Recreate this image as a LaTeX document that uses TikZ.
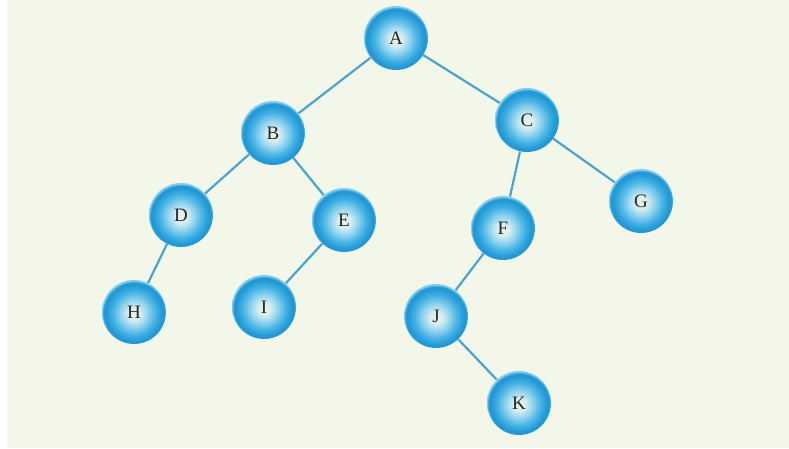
\documentclass[tikz,border=0pt]{standalone}
\usepackage{fontspec}
\setmainfont{Liberation Serif}
\usetikzlibrary{backgrounds}
\definecolor{bgc}{HTML}{F3F7EA}
\definecolor{edgec}{HTML}{4BA3CE}
\definecolor{txtc}{HTML}{262626}
\definecolor{ca}{HTML}{EEF3E6}
\definecolor{cb}{HTML}{D6EDF0}
\definecolor{cc}{HTML}{8CD2EE}
\definecolor{cd}{HTML}{43B1E5}
\definecolor{ce}{HTML}{2096D3}
\definecolor{cf}{HTML}{2A9BD6}
\definecolor{cg}{HTML}{80CDEE}
\pgfdeclareradialshading{nodeball}{\pgfpoint{0bp}{-1.5bp}}{color(0bp)=(ca); color(5bp)=(cb); color(11bp)=(cc); color(17bp)=(cd); color(22.5bp)=(ce); color(24bp)=(cf); color(25bp)=(cg); color(50bp)=(cg)}
\tikzset{
  tnode/.style={circle, minimum size=64pt, inner sep=0pt, shading=nodeball, text=txtc, font=\fontsize{19}{22}\selectfont},
  tedge/.style={draw=edgec, line width=2.2pt}
}
\begin{document}
\begin{tikzpicture}[x=1pt,y=-1pt]
\useasboundingbox (0,0) rectangle (789,448);
\begin{pgfonlayer}{background}
\fill[white] (0,0) rectangle (789,448);
\fill[bgc] (7,0) rectangle (789,448);
\end{pgfonlayer}
\node[tnode] (A) at (396,38) {A};
\node[tnode] (B) at (273,133) {B};
\node[tnode] (C) at (527,120) {C};
\node[tnode] (D) at (181,215) {D};
\node[tnode] (E) at (344,220) {E};
\node[tnode] (F) at (503,228) {F};
\node[tnode] (G) at (641,201) {G};
\node[tnode] (H) at (134,312) {H};
\node[tnode] (I) at (264,307) {I};
\node[tnode] (J) at (436,316) {J};
\node[tnode] (K) at (519,403) {K};
\begin{pgfonlayer}{background}
\path[tedge] (A) -- (B) (A) -- (C) (B) -- (D) (B) -- (E) (D) -- (H) (E) -- (I)
  (C) -- (F) (C) -- (G) (F) -- (J) (J) -- (K);
\end{pgfonlayer}
\end{tikzpicture}
\end{document}
